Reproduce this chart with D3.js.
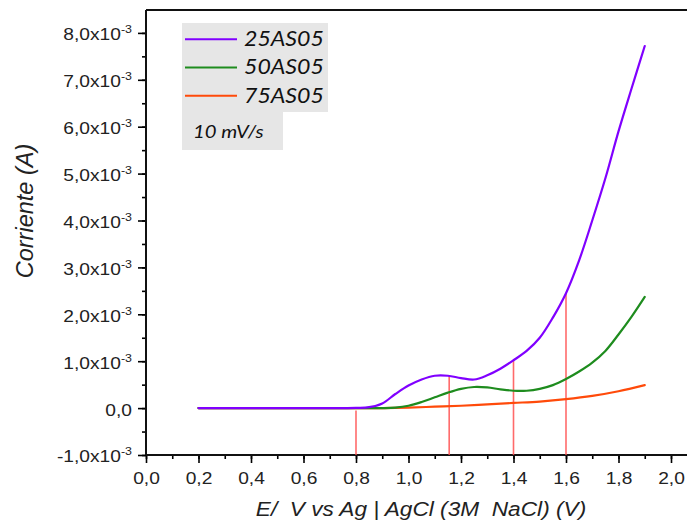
<!DOCTYPE html>
<html><head><meta charset="utf-8">
<script src="https://cdn.jsdelivr.net/npm/d3@7"></script>
<style>body{margin:0;background:#fff}svg{display:block}text{white-space:pre}</style>
</head><body>
<svg id="c" width="687" height="525"></svg>
<script>
// ---- data (current in units of 1e-3 A) ----
const seriesNames = ["25AS05", "50AS05", "75AS05"];
const seriesColors = ["#8000ff", "#1e8c1e", "#ff4a0a"];
const x25 = [0.2, 0.4, 0.6, 0.8, 0.85, 0.9, 0.95, 1.0, 1.05, 1.1, 1.15, 1.2, 1.25, 1.3, 1.35, 1.4, 1.45, 1.5, 1.55, 1.6, 1.65, 1.7, 1.75, 1.8, 1.85, 1.9];
const y25 = [0, 0, 0, 0.005, 0.02, 0.1, 0.3, 0.48, 0.61, 0.69, 0.69, 0.64, 0.61, 0.7, 0.84, 1.02, 1.22, 1.5, 1.93, 2.45, 3.15, 4.0, 4.9, 5.9, 6.82, 7.72];
const x50 = [0.2, 0.5, 0.8, 0.9, 0.95, 1.0, 1.05, 1.1, 1.15, 1.2, 1.25, 1.3, 1.35, 1.4, 1.45, 1.5, 1.55, 1.6, 1.65, 1.7, 1.75, 1.8, 1.85, 1.9];
const y50 = [0, 0, 0, 0, 0.01, 0.05, 0.13, 0.23, 0.33, 0.41, 0.45, 0.44, 0.4, 0.37, 0.37, 0.41, 0.49, 0.62, 0.78, 0.97, 1.22, 1.57, 1.95, 2.37];
const x75 = [0.2, 0.5, 0.8, 0.9, 1.0, 1.1, 1.2, 1.3, 1.4, 1.5, 1.6, 1.7, 1.8, 1.9];
const y75 = [0, 0, 0, 0, 0.01, 0.03, 0.05, 0.08, 0.11, 0.14, 0.19, 0.26, 0.36, 0.49];
const markerX = [0.8, 1.155, 1.4, 1.6];
const markerY = [-0.05, 0.70, 1.02, 2.45];
const xTicks = [0, 0.2, 0.4, 0.6, 0.8, 1.0, 1.2, 1.4, 1.6, 1.8, 2.0];
const yTicks = [-1, 0, 1, 2, 3, 4, 5, 6, 7, 8];
const scanRate = "10 mV/s";
const xTitle = "E/  V vs Ag | AgCl (3M  NaCl) (V)";
const yTitle = "Corriente (A)";

const SX = 1.13; // horizontal text stretch of the original picture
const svg = d3.select("#c");
const L = 146, R = 687, T = 10, B = 455;
const x = d3.scaleLinear().domain([0, 2.0]).range([L, L + 262.5 * 2]);
const y = d3.scaleLinear().domain([-1, 8]).range([B, B - 46.9 * 9]);

// axes
const fmt = v => v.toFixed(1).replace(".", ",");
const gx = svg.append("g").attr("transform", `translate(0,${B})`)
  .call(d3.axisBottom(x).tickValues(d3.range(0, 2.01, 0.1)).tickSize(4).tickFormat(""));
gx.select(".domain").remove();
gx.selectAll(".tick line").attr("stroke-width", 1.6);
const gx2 = svg.append("g").attr("transform", `translate(0,${B})`)
  .call(d3.axisBottom(x).tickValues(xTicks).tickSize(8).tickFormat(fmt));
gx2.select(".domain").remove();
gx2.selectAll(".tick line").attr("stroke-width", 1.6);
gx2.selectAll(".tick text").attr("y", 29).attr("dy", 0).attr("x", 0)
  .attr("transform", `scale(${SX},1)`)
  .attr("font-family", "Arial, 'Liberation Sans', sans-serif").attr("font-size", 17).attr("fill", "#222");

const gy = svg.append("g").attr("transform", `translate(${L},0)`)
  .call(d3.axisLeft(y).tickValues(d3.range(-1, 8.01, 0.5)).tickSize(4).tickFormat(""));
gy.select(".domain").remove();
gy.selectAll(".tick line").attr("stroke-width", 1.6);
const gy2 = svg.append("g").attr("transform", `translate(${L},0)`)
  .call(d3.axisLeft(y).tickValues(yTicks).tickSize(8).tickFormat(""));
gy2.select(".domain").remove();
gy2.selectAll(".tick line").attr("stroke-width", 1.6);
gy2.selectAll(".tick").each(function(d) {
  const t = d3.select(this).append("text")
    .attr("text-anchor", "end").attr("x", -14 / SX).attr("dy", "0.41em")
    .attr("transform", `scale(${SX},1)`)
    .attr("font-family", "Arial, 'Liberation Sans', sans-serif").attr("font-size", 17).attr("fill", "#222");
  if (d === 0) { t.text("0,0"); }
  else {
    t.append("tspan").text(fmt(d) + "x10");
    t.append("tspan").attr("font-size", 11).attr("dy", -7).text("-3");
  }
});

// frame lines
svg.append("line").attr("x1", L).attr("x2", R).attr("y1", B).attr("y2", B).attr("stroke", "#111").attr("stroke-width", 2);
svg.append("line").attr("x1", L).attr("x2", L).attr("y1", T).attr("y2", B).attr("stroke", "#111").attr("stroke-width", 2);
svg.append("line").attr("x1", L).attr("x2", R).attr("y1", T).attr("y2", T).attr("stroke", "#111").attr("stroke-width", 2);

// marker lines
svg.append("g").selectAll("line").data(markerX).join("line")
  .attr("x1", d => x(d)).attr("x2", d => x(d))
  .attr("y1", y(-1)).attr("y2", (d, i) => y(markerY[i]))
  .attr("stroke", "#ff5050").attr("stroke-opacity", 0.85).attr("stroke-width", 1.6);

// curves
const line = d3.line().x(d => x(d[0])).y(d => y(d[1])).curve(d3.curveCatmullRom.alpha(0.5));
const data = [d3.zip(x25, y25), d3.zip(x50, y50), d3.zip(x75, y75)];
[2, 1, 0].forEach(i => {
  svg.append("path").datum(data[i]).attr("d", line)
    .attr("fill", "none").attr("stroke", seriesColors[i]).attr("stroke-width", 2.2)
    .attr("stroke-linejoin", "round").attr("stroke-linecap", "round");
});

// legend
const lg = svg.append("g");
lg.append("rect").attr("x", 182).attr("y", 23).attr("width", 146).attr("height", 89).attr("fill", "#e6e6e6");
lg.append("rect").attr("x", 182).attr("y", 112).attr("width", 101).attr("height", 38).attr("fill", "#e6e6e6");
seriesNames.forEach((n, i) => {
  const yy = 39.3 + i * 28.2;
  lg.append("line").attr("x1", 185).attr("x2", 237).attr("y1", yy).attr("y2", yy)
    .attr("stroke", seriesColors[i]).attr("stroke-width", 2);
  lg.append("text").attr("x", 244 / SX).attr("y", yy + 7)
    .attr("transform", `scale(${SX},1)`)
    .attr("font-family", "Lato, 'Open Sans', sans-serif").attr("font-style", "italic")
    .attr("font-size", 20.5).attr("fill", "#111").text(n);
});
lg.append("text").attr("x", 193 / SX).attr("y", 138.3)
  .attr("transform", `scale(${SX},1)`)
  .attr("font-family", "Lato, 'Open Sans', sans-serif").attr("font-style", "italic")
  .attr("font-size", 18).attr("fill", "#111").text(scanRate);

// axis titles
svg.append("text").attr("x", 421 / 1.08).attr("y", 516)
  .attr("transform", "scale(1.08,1)").attr("text-anchor", "middle")
  .attr("font-family", "Arial, 'Liberation Sans', sans-serif").attr("font-style", "italic")
  .attr("font-size", 21).attr("fill", "#222").text(xTitle);
svg.append("text").attr("transform", "translate(33,211) rotate(-90)").attr("text-anchor", "middle")
  .attr("font-family", "Arial, 'Liberation Sans', sans-serif").attr("font-style", "italic")
  .attr("font-size", 23.5).attr("fill", "#222").text(yTitle);
</script>
</body></html>
